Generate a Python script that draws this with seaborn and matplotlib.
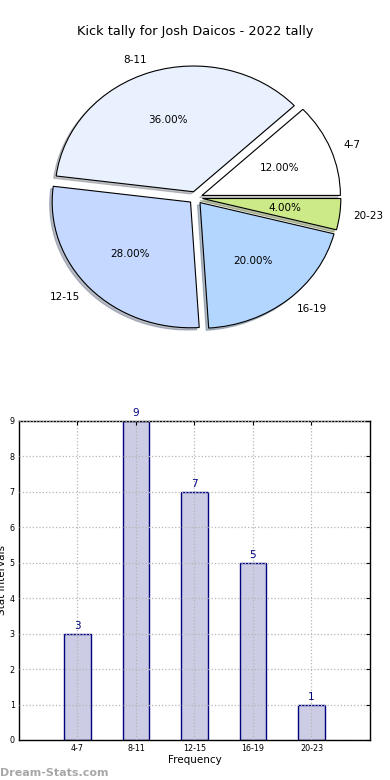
import seaborn as sns
import matplotlib.pyplot as plt
import pandas as pd

# data
intervals = ['4-7', '8-11', '12-15', '16-19', '20-23']
kicks = [3, 9, 7, 5, 1]
pie_colors = ['#FFFFFF', '#EAF1FE', '#C5D8FF', '#B3D6FF', '#CDEA88']

title = 'Kick tally for Josh Daicos - 2022 tally'

df = pd.DataFrame({'interval': intervals, 'kicks': kicks})

# ~~~~~~~~ Plot ~~~~~~~~
sns.set_style("white")
plt.rcParams['font.family'] = ['DejaVu Sans']
plt.rcParams['text.color'] = 'black'
plt.rcParams['axes.labelcolor'] = 'black'
plt.rcParams['xtick.color'] = 'black'
plt.rcParams['ytick.color'] = 'black'
fig = plt.figure(figsize=(3.9, 7.8), dpi=100)

# pie on top
ax1 = fig.add_axes([0.058, 0.545, 0.887, 0.403])
ax1.pie(df['kicks'], labels=df['interval'], colors=pie_colors, autopct='%.2f%%',
        explode=[0.05] * len(kicks), startangle=0,
        shadow={'ox': -0.013, 'oy': -0.013, 'shade': 0.45},
        wedgeprops={'edgecolor': 'black', 'linewidth': 0.8},
        textprops={'fontsize': 7.5})
ax1.set_aspect('auto')
ax1.set_xlim(-1.25, 1.25)
ax1.set_ylim(-1.25, 1.25)
ax1.set_title(title, fontsize=9.3, pad=4)

# bars below
ax2 = fig.add_axes([0.0487, 0.0513, 0.9, 0.409])
sns.barplot(df, x='interval', y='kicks', ax=ax2, width=0.45, color='#CCCCE5',
            saturation=1, edgecolor='#000080', linewidth=1)
ax2.bar_label(ax2.containers[0], padding=2, color='#000080', fontsize=7.5)
ax2.set_xlim(-1, 5)
ax2.set_ylim(0, 9)
ax2.set_yticks(range(10))
ax2.grid(True, linestyle=':', color='#b5b5b5', linewidth=0.9)
ax2.set_axisbelow(False)
ax2.tick_params(direction='in', top=True, right=True, labelsize=5.8, length=3, pad=3)
for s in ax2.spines.values():
    s.set_color('black')
    s.set_linewidth(1)
ax2.set_xlabel('Frequency', fontsize=7.5, labelpad=1)
ax2.set_ylabel('Stat Intervals', fontsize=7.5, labelpad=2)

fig.text(0.0, 0.005, 'Dream-Stats.com', color='#A8A8A8', fontsize=8, weight='bold')

plt.savefig('out.png', dpi=100)
